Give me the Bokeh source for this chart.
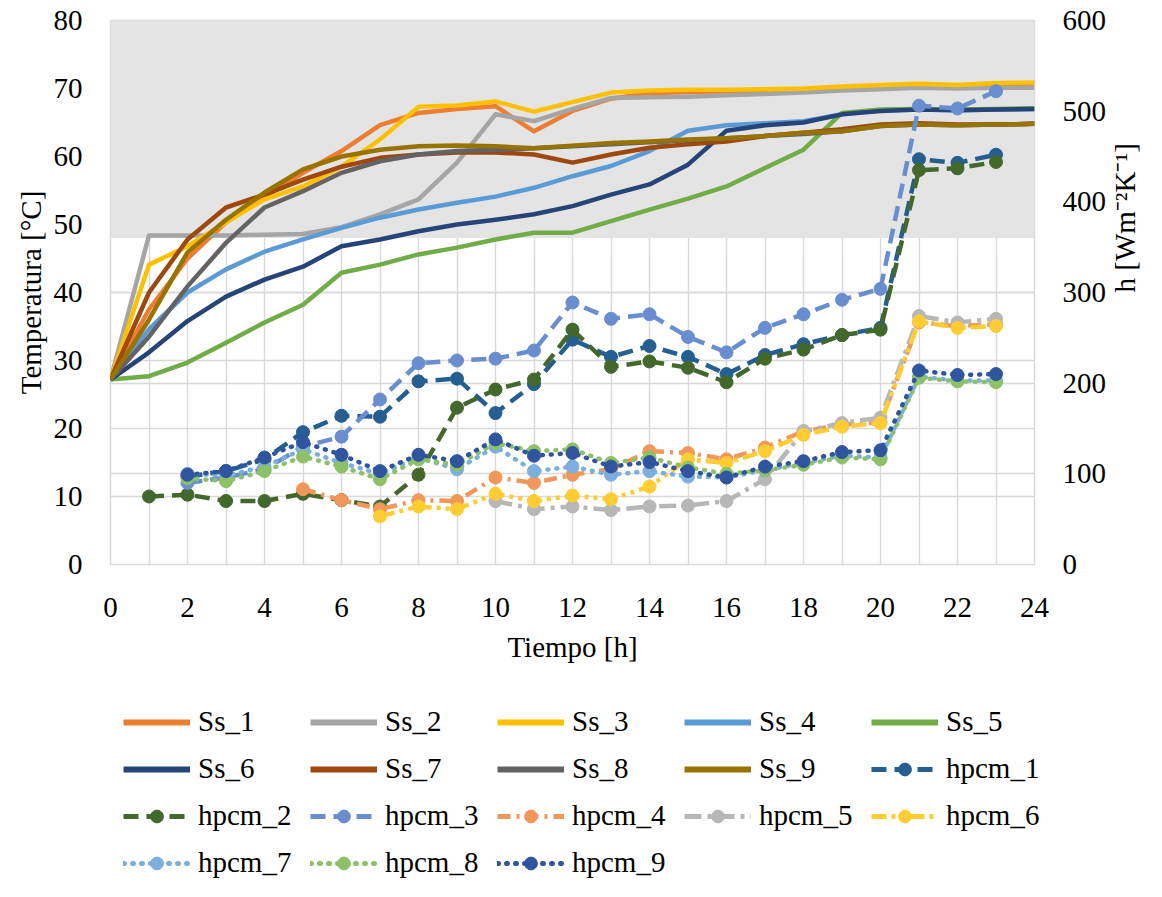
import math
from bokeh.plotting import figure
from bokeh.models import (Range1d, LinearAxis, SingleIntervalTicker, Grid, Legend, LegendItem)
from bokeh.embed import file_html
from bokeh.resources import INLINE

# ---------------- data ----------------
hours = list(range(25))
ss_1 = [27.2, 37.5, 45.0, 50.3, 54.0, 57.6, 60.8, 64.6, 66.4, 67.0, 67.4, 63.7, 66.7, 68.5, 69.3, 69.5, 69.6, 69.7, 69.8, 70.0, 70.3, 70.5, 70.3, 70.5, 70.7]
ss_2 = [27.2, 48.4, 48.4, 48.4, 48.5, 48.6, 49.6, 51.5, 53.7, 59.1, 66.2, 65.2, 67.0, 68.6, 68.7, 68.8, 69.0, 69.2, 69.4, 69.7, 69.9, 70.1, 70.0, 70.1, 70.1]
ss_3 = [27.2, 44.1, 46.8, 50.3, 53.7, 55.6, 58.5, 62.5, 67.3, 67.5, 68.1, 66.6, 68.0, 69.4, 69.7, 69.8, 69.8, 69.9, 70.0, 70.3, 70.5, 70.7, 70.5, 70.8, 70.9]
ss_4 = [27.2, 34.6, 40.0, 43.4, 46.0, 47.8, 49.5, 51.0, 52.2, 53.2, 54.1, 55.4, 57.1, 58.6, 60.8, 63.8, 64.6, 64.9, 65.2, 66.2, 66.8, 66.9, 66.8, 66.9, 67.0]
ss_5 = [27.2, 27.7, 29.7, 32.6, 35.6, 38.2, 42.9, 44.1, 45.6, 46.6, 47.8, 48.8, 48.8, 50.5, 52.2, 53.8, 55.6, 58.3, 61.0, 66.4, 66.9, 67.0, 66.9, 67.0, 67.1]
ss_6 = [27.2, 31.2, 35.8, 39.4, 41.9, 43.8, 46.8, 47.8, 49.0, 50.0, 50.7, 51.5, 52.7, 54.4, 55.9, 58.8, 63.8, 64.6, 65.0, 66.2, 66.7, 66.9, 66.8, 66.9, 67.0]
ss_7 = [27.2, 40.0, 47.8, 52.5, 54.4, 56.6, 58.5, 59.8, 60.3, 60.6, 60.6, 60.3, 59.1, 60.3, 61.3, 61.8, 62.2, 63.0, 63.5, 64.0, 64.7, 64.9, 64.7, 64.7, 64.8]
ss_8 = [27.2, 33.5, 40.9, 47.3, 52.5, 54.9, 57.6, 59.3, 60.3, 60.8, 61.0, 61.2, 61.5, 61.8, 62.1, 62.4, 62.7, 63.0, 63.3, 63.7, 64.5, 64.7, 64.6, 64.7, 64.8]
ss_9 = [27.2, 36.0, 45.9, 50.7, 54.7, 58.1, 60.0, 61.0, 61.5, 61.6, 61.5, 61.2, 61.6, 62.0, 62.2, 62.5, 62.7, 63.0, 63.5, 63.7, 64.5, 64.7, 64.6, 64.7, 64.8]

hpcm_1_t = list(range(2, 24))
hpcm_1 = [97, 103, 116, 146, 164, 163, 202, 205, 167, 199, 248, 229, 241, 229, 210, 231, 243, 253, 261, 447, 443, 452]
hpcm_2_t = list(range(1, 24))
hpcm_2 = [75, 77, 70, 70, 78, 71, 64, 99, 173, 193, 204, 259, 218, 224, 217, 201, 227, 237, 253, 259, 435, 437, 444]
hpcm_3_t = list(range(2, 24))
hpcm_3 = [90, 96, 105, 130, 141, 182, 222, 225, 227, 236, 289, 271, 276, 251, 234, 261, 276, 292, 304, 506, 503, 522]
hpcm_4_t = list(range(5, 24))
hpcm_4 = [83, 71, 61, 71, 70, 96, 90, 99, 105, 125, 123, 116, 129, 147, 154, 157, 267, 263, 265]
hpcm_5_t = list(range(10, 24))
hpcm_5 = [70, 61, 64, 60, 64, 65, 70, 94, 147, 156, 162, 274, 267, 271]
hpcm_6_t = list(range(7, 24))
hpcm_6 = [53, 64, 61, 78, 70, 76, 72, 86, 116, 112, 125, 143, 152, 156, 268, 261, 263]
hpcm_7_t = list(range(2, 24))
hpcm_7 = [100, 98, 108, 127, 112, 100, 118, 105, 130, 103, 108, 99, 103, 97, 96, 104, 112, 120, 118, 207, 203, 203]
hpcm_8_t = list(range(2, 24))
hpcm_8 = [95, 92, 103, 119, 108, 94, 116, 110, 134, 125, 127, 112, 118, 107, 100, 104, 110, 118, 116, 206, 202, 201]
hpcm_9_t = list(range(2, 24))
hpcm_9 = [99, 103, 118, 135, 121, 103, 121, 114, 138, 120, 123, 108, 113, 103, 96, 108, 114, 124, 126, 214, 209, 210]

band_low = 48.0
band_high = 80.0

ss_names = ["Ss_1", "Ss_2", "Ss_3", "Ss_4", "Ss_5", "Ss_6", "Ss_7", "Ss_8", "Ss_9"]
ss_values = [ss_1, ss_2, ss_3, ss_4, ss_5, ss_6, ss_7, ss_8, ss_9]
ss_colors = ["#ED7D31", "#A5A5A5", "#FFC000", "#5B9BD5", "#70AD47",
             "#264478", "#9E480E", "#636363", "#997300"]

hp_names = ["hpcm_1", "hpcm_2", "hpcm_3", "hpcm_4", "hpcm_5", "hpcm_6", "hpcm_7", "hpcm_8", "hpcm_9"]
hp_times = [hpcm_1_t, hpcm_2_t, hpcm_3_t, hpcm_4_t, hpcm_5_t, hpcm_6_t, hpcm_7_t, hpcm_8_t, hpcm_9_t]
hp_values = [hpcm_1, hpcm_2, hpcm_3, hpcm_4, hpcm_5, hpcm_6, hpcm_7, hpcm_8, hpcm_9]
hp_colors = ["#255E91", "#43682B", "#698ED0", "#F1975A", "#B7B7B7",
             "#FFCD33", "#7CAFDD", "#8CC168", "#2F559F"]
hp_dash = ["15 8", "15 8", "15 8", "13 6 3 6", "17 6 4 6", "15 5 4 5 4 5",
           "1 8", "1 8", "1 8"]

FONT = "Liberation Serif"
FS = "29px"
GRID = "#D9D9D9"
W = 1160
LW = 4.5

# ---------------- main figure ----------------
p = figure(width=W, height=684, output_backend="svg", toolbar_location=None,
           x_range=Range1d(0, 24), y_range=Range1d(0, 80),
           min_border_left=110, min_border_top=20, min_border_right=125, min_border_bottom=120)
p.extra_y_ranges = {"h": Range1d(0, 600)}
p.outline_line_color = GRID
p.outline_line_width = 1.5
p.background_fill_color = "white"
p.border_fill_color = "white"

p.xgrid.ticker = SingleIntervalTicker(interval=1)
p.ygrid.ticker = SingleIntervalTicker(interval=10)
for g in (p.xgrid[0], p.ygrid[0]):
    g.grid_line_color = GRID
    g.grid_line_width = 1.4
g2 = Grid(dimension=1, ticker=SingleIntervalTicker(interval=100), y_range_name="h",
          grid_line_color=GRID, grid_line_width=1.4)
p.add_layout(g2)

def style_axis(ax):
    ax.axis_line_color = None
    ax.major_tick_line_color = None
    ax.minor_tick_line_color = None
    ax.major_tick_out = 0
    ax.major_tick_in = 0
    ax.minor_tick_out = 0
    ax.major_label_text_font = FONT
    ax.major_label_text_font_size = FS
    ax.major_label_text_color = "black"
    ax.axis_label_text_font = FONT
    ax.axis_label_text_font_size = FS
    ax.axis_label_text_font_style = "normal"
    ax.axis_label_text_color = "black"

xa = p.xaxis[0]
xa.ticker = SingleIntervalTicker(interval=2)
xa.axis_label = "Tiempo [h]"
style_axis(xa)
xa.major_label_standoff = 33
xa.axis_label_standoff = 11

ya = p.yaxis[0]
ya.ticker = SingleIntervalTicker(interval=10)
ya.axis_label = "Temperatura [°C]"
style_axis(ya)
ya.major_label_standoff = 28
ya.axis_label_standoff = 4

ra = LinearAxis(y_range_name="h", ticker=SingleIntervalTicker(interval=100),
                axis_label="h [Wm⁻²K⁻¹]")
style_axis(ra)
ra.major_label_standoff = 28
ra.axis_label_standoff = 16
ra.axis_label_orientation = math.pi / 2
p.add_layout(ra, "right")

p.quad(left=[hours[0]], right=[hours[-1]], bottom=[band_low], top=[band_high],
       fill_color="#E4E4E4", line_color=None)

# ---------------- legend strip (second root below the chart) ----------------
lg = figure(width=W, height=205, output_backend="svg", toolbar_location=None,
            x_range=Range1d(0, 1), y_range=Range1d(0, 1),
            x_axis_location=None, y_axis_location=None,
            min_border_left=0, min_border_right=0, min_border_top=0, min_border_bottom=0)
lg.grid.visible = False
lg.outline_line_color = None
# swatch renderers sit outside this strip's visible range; only their legend glyphs show
sw_x = [5, 6]
sw_y = [5, 5]

items = []
for name, vals, col in zip(ss_names, ss_values, ss_colors):
    p.line(hours, vals, line_color=col, line_width=LW, line_join="round")
    r = lg.line(sw_x, sw_y, line_color=col, line_width=6)
    items.append(LegendItem(label=name, renderers=[r]))

for i, (name, t, vals, col, dash) in enumerate(zip(hp_names, hp_times, hp_values, hp_colors, hp_dash)):
    cap = "round" if i >= 6 else "butt"
    p.line(t, vals, y_range_name="h", line_color=col, line_width=LW, line_dash=dash,
           line_cap=cap, line_join="round")
    p.scatter(t, vals, y_range_name="h", marker="circle", size=13, fill_color=col, line_color=col)
    rl = lg.line(sw_x, sw_y, line_color=col, line_width=5, line_dash=dash, line_cap=cap)
    rm = lg.scatter(sw_x, sw_y, marker="circle", size=13, fill_color=col, line_color=col)
    items.append(LegendItem(label=name, renderers=[rl, rm], index=0))

legend = Legend(items=items, ncols=5, orientation="horizontal", location=(123, 10),
                glyph_width=67, glyph_height=32, label_standoff=8,
                label_width=98, label_height=32, spacing=14, padding=0, margin=0,
                label_text_font=FONT, label_text_font_size=FS, label_text_color="black",
                border_line_alpha=0, background_fill_alpha=0)
lg.add_layout(legend)

open("out.html", "w").write(file_html([p, lg], INLINE))
